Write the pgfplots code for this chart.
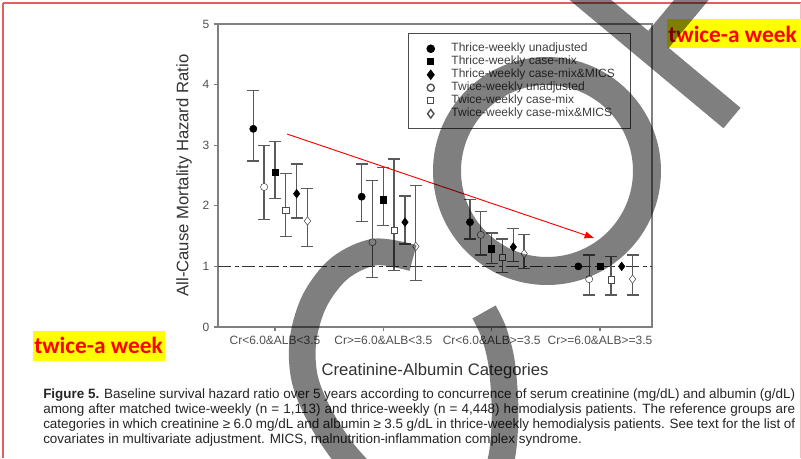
\documentclass[border=0pt]{standalone}
\usepackage{fontspec}
\setmainfont{Liberation Sans}
\newfontfamily\carlito{Carlito}
\usepackage{pgfplots}
\pgfplotsset{compat=1.18}
\usetikzlibrary{arrows.meta}
\definecolor{axisgray}{HTML}{808080}
\definecolor{tickgray}{HTML}{505050}
\definecolor{bargray}{HTML}{5A5A5A}
\definecolor{framered}{HTML}{E06060}
\definecolor{hlyellow}{HTML}{FFFF00}
\pgfplotsset{eb/.style={error bars/y dir=both, error bars/y explicit,
  error bars/error bar style={draw=bargray, line width=1pt},
  error bars/error mark options={rotate=90, mark size=4.5pt, draw=bargray, line width=1pt}}}
\begin{document}
\begin{tikzpicture}
\path[use as bounding box] (0,0) rectangle (600.75pt,343.5pt);
\fill[white] (0,0) rectangle (600.75pt,343.5pt);
\begin{axis}[
  at={(163.5pt,98.25pt)}, anchor=south west,
  scale only axis, width=325.5pt, height=227.25pt,
  xmin=0.474, xmax=4.48, ymin=0, ymax=5,
  xtick={1,2,3,4},
  xticklabels={Cr<6.0\&ALB<3.5, Cr>=6.0\&ALB<3.5, Cr<6.0\&ALB>=3.5, Cr>=6.0\&ALB>=3.5},
  ytick={0,1,2,3,4,5},
  tick align=outside, major tick length=3pt,
  xtick pos=bottom, ytick pos=left,
  axis line style={draw=axisgray, line width=1pt},
  every tick/.style={draw=axisgray, line width=1pt},
  tick label style={font=\fontsize{9}{10}\selectfont, text=tickgray},
  /pgf/number format/assume math mode=true,
  ylabel={All-Cause Mortality Hazard Ratio},
  xlabel={Creatinine-Albumin Categories},
  label style={font=\fontsize{12.5}{14}\selectfont, text=black!80},
  ylabel style={at={(axis description cs:-0.078,0.5)}, anchor=center},
  xlabel style={at={(axis description cs:0.5,-0.145)}, anchor=center},
  legend style={at={(axis description cs:0.438,0.970)}, anchor=north west,
    draw=black!70, line width=1pt, font=\fontsize{9}{10}\selectfont, text=black!75,
    inner xsep=12pt, inner ysep=7pt, row sep=1.25pt, column sep=11pt,
    nodes={inner sep=0pt, text height=6.5pt, text depth=2pt}},
  legend cell align=left,
  legend image code/.code={\path (0pt,0pt) (8pt,0pt); \draw[#1] plot coordinates {(4pt,0pt)};},
]
\addplot[forget plot, draw=black!80, line width=0.8pt, dash pattern=on 10pt off 2.5pt on 3pt off 2.5pt] coordinates {(0.474,1) (4.48,1)};

\addplot[only marks, mark=*, mark size=2.7pt, black, eb] coordinates {
 (0.8,3.27) += (0,0.63) -= (0,0.53)
 (1.8,2.15) += (0,0.54) -= (0,0.41)
 (2.8,1.73) += (0,0.37) -= (0,0.28)
};
\addlegendentry{Thrice-weekly unadjusted}
\addplot[only marks, mark=square*, mark size=2.3pt, black, eb] coordinates {
 (1.0,2.55) += (0,0.51) -= (0,0.43)
 (2.0,2.10) += (0,0.53) -= (0,0.42)
 (3.0,1.29) += (0,0.26) -= (0,0.24)
};
\addlegendentry{Thrice-weekly case-mix}
\addplot[only marks, mark=diamond*, mark size=3.2pt, black, eb] coordinates {
 (1.2,2.20) += (0,0.49) -= (0,0.40)
 (2.2,1.73) += (0,0.43) -= (0,0.36)
 (3.2,1.32) += (0,0.30) -= (0,0.24)
};
\addlegendentry{Thrice-weekly case-mix\&MICS}
\addplot[only marks, mark=*, mark size=2.7pt, mark options={draw=black!70, fill=white}, eb] coordinates {
 (0.9,2.31) += (0,0.68) -= (0,0.54)
 (1.9,1.40) += (0,1.02) -= (0,0.58)
 (2.9,1.52) += (0,0.39) -= (0,0.33)
 (3.9,0.79) += (0,0.40) -= (0,0.26)
};
\addlegendentry{Twice-weekly unadjusted}
\addplot[only marks, mark=square*, mark size=2.3pt, mark options={draw=black!70, fill=white}, eb] coordinates {
 (1.1,1.93) += (0,0.60) -= (0,0.44)
 (2.1,1.59) += (0,1.18) -= (0,0.66)
 (3.1,1.15) += (0,0.30) -= (0,0.25)
 (4.1,0.78) += (0,0.38) -= (0,0.25)
};
\addlegendentry{Twice-weekly case-mix}
\addplot[only marks, mark=diamond*, mark size=3.2pt, mark options={draw=black!70, fill=white}, eb] coordinates {
 (1.3,1.75) += (0,0.54) -= (0,0.42)
 (2.3,1.33) += (0,1.00) -= (0,0.56)
 (3.3,1.21) += (0,0.32) -= (0,0.25)
 (4.3,0.79) += (0,0.40) -= (0,0.26)
};
\addlegendentry{Twice-weekly case-mix\&MICS}
% reference group points (no error bars)
\addplot[forget plot, only marks, mark=*, mark size=2.7pt, black] coordinates {(3.8,1.00)};
\addplot[forget plot, only marks, mark=square*, mark size=2.3pt, black] coordinates {(4.0,1.00)};
\addplot[forget plot, only marks, mark=diamond*, mark size=3.2pt, black] coordinates {(4.2,1.00)};
\end{axis}

\begin{scope}[x=0.75pt, y=-0.75pt, shift={(0pt,343.5pt)}]
\clip (0,0) rectangle (801,458);
% page frame
\draw[framered, line width=0.8pt] (3,3) -- (801,3);
\draw[framered, line width=0.8pt] (3,3) -- (3,458);
\draw[framered!40, line width=0.6pt] (800,3) -- (800,458);
% red arrow
\draw[red, line width=0.7pt, -{Triangle[length=7pt,width=5pt]}] (287,134) -- (594,238);
% highlighted labels
\fill[hlyellow] (33,331) rectangle (165,361);
\node[anchor=base west, inner sep=0pt, text=red, font=\carlito\bfseries\fontsize{17.5}{20}\selectfont] at (34,353) {twice-a week};
\fill[hlyellow] (667,19) rectangle (801,48);
\node[anchor=base west, inner sep=0pt, text=red, font=\carlito\bfseries\fontsize{17.5}{20}\selectfont] at (668,42.5) {twice-a week};
% caption
\begin{scope}[every node/.style={anchor=base west, inner sep=0pt, text=black!85, font=\fontsize{10.1}{12}\selectfont}]
\node at (43,398) {\makebox[564pt][s]{\textbf{Figure 5.} Baseline survival hazard ratio over 5 years according to concurrence of serum creatinine (mg/dL) and albumin (g/dL)}};
\node at (43,413) {\makebox[564pt][s]{among after matched twice-weekly (n = 1,113) and thrice-weekly (n = 4,448) hemodialysis patients. The reference groups are}};
\node at (43,428) {\makebox[564pt][s]{categories in which creatinine ≥ 6.0 mg/dL and albumin ≥ 3.5 g/dL in thrice-weekly hemodialysis patients. See text for the list of}};
\node at (43,443) {covariates in multivariate adjustment. MICS, malnutrition-inflammation complex syndrome.};
\end{scope}
% watermark
\begin{scope}[transparency group, opacity=0.5]
\draw[black, line width=21pt] (547,171) circle [radius=100];
\draw[black, line width=20pt, line cap=butt] plot[smooth, tension=0.55] coordinates {(413,258) (375,252) (340,268) (315,300) (303,340) (305,380) (322,420) (348,458) (382,490) (425,508) (470,500) (498,470) (505,420) (502,366) (494,333) (484,312)};
\draw[black, line width=20pt, line cap=butt] (732,118) -- (570,-17);
\draw[black, line width=20pt, line cap=butt] (653,46) -- (713,-26);
\end{scope}
\end{scope}
\end{tikzpicture}
\end{document}
